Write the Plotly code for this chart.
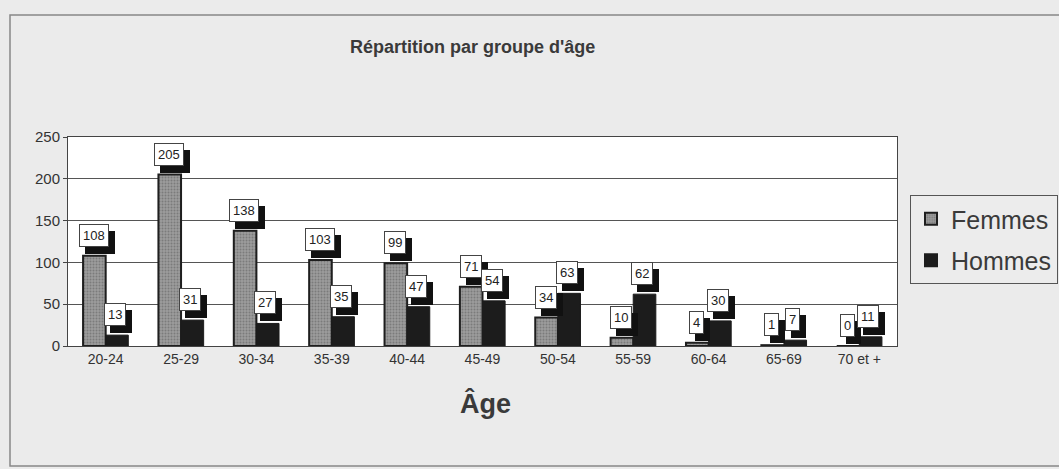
import plotly.graph_objects as go

categories = ["20-24", "25-29", "30-34", "35-39", "40-44", "45-49",
              "50-54", "55-59", "60-64", "65-69", "70 et +"]
femmes = [108, 205, 138, 103, 99, 71, 34, 10, 4, 1, 0]
hommes = [13, 31, 27, 35, 47, 54, 63, 62, 30, 7, 11]
y_ticks = [0, 50, 100, 150, 200, 250]

W, H = 1059, 469
L, R, T, B = 68, 162, 137, 123
pw, ph = W - L - R, H - T - B

def px_x(p):
    return (p - L) / pw

def px_y(p):
    return (H - B - p) / ph

FONT = "Arial, Liberation Sans, sans-serif"

fig = go.Figure()
fig.add_trace(go.Bar(
    x=categories, y=femmes, name="Femmes", legendgroup="f",
    marker=dict(color="#9c9c9c", line=dict(color="#1e1e1e", width=2),
                pattern=dict(shape=".", fgcolor="#5a5a5a", size=3, solidity=0.35)),
))
fig.add_trace(go.Bar(
    x=categories, y=hommes, name="Hommes", legendgroup="h",
    marker=dict(color="#1c1c1c", line=dict(color="#1c1c1c", width=1)),
))

annotations = []
for series, xs in ((femmes, -12), (hommes, 9)):
    for c, v in zip(categories, series):
        common = dict(x=c, y=v, xref="x", yref="y", text=str(v), showarrow=False,
                      yanchor="bottom", borderpad=3, borderwidth=1)
        annotations.append(dict(common, xshift=xs + 6, yshift=9 - 7,
                                bgcolor="#111111", bordercolor="#111111",
                                font=dict(family=FONT, size=13, color="#111111")))
        annotations.append(dict(common, xshift=xs, yshift=9,
                                bgcolor="white", bordercolor="#444444",
                                font=dict(family=FONT, size=13, color="#222222")))

annotations.append(dict(text="<b>Répartition par groupe d'âge</b>", xref="paper", yref="paper",
                        x=px_x(472), y=px_y(47), xanchor="center", yanchor="middle",
                        showarrow=False,
                        font=dict(family=FONT, size=18, color="#3a3a3a")))
annotations.append(dict(text="<b>Âge</b>", xref="paper", yref="paper",
                        x=px_x(485), y=px_y(403), xanchor="center", yanchor="middle",
                        showarrow=False,
                        font=dict(family=FONT, size=27, color="#3a3a3a")))

fig.update_layout(
    width=W, height=H,
    margin=dict(l=L, r=R, t=T, b=B, autoexpand=False),
    paper_bgcolor="#ebebeb", plot_bgcolor="white",
    barmode="group", bargap=0.4, bargroupgap=0,
    font=dict(family=FONT, color="#333333"),
    showlegend=True,
    legend=dict(x=px_x(910), y=px_y(195), xanchor="left", yanchor="top",
                bgcolor="#ececec", bordercolor="#555555", borderwidth=1,
                font=dict(size=25, color="#3a3a3a"), itemsizing="constant",
                traceorder="grouped", tracegroupgap=6),
    annotations=annotations,
    shapes=[dict(type="rect", xref="paper", yref="paper",
                 x0=px_x(10), x1=px_x(1075), y0=px_y(466), y1=px_y(15),
                 line=dict(color="#888888", width=1.5), layer="below")],
)
fig.update_xaxes(showline=True, linecolor="#444444", mirror=True, ticks="",
                 tickfont=dict(size=14, color="#333333"), showgrid=False)
fig.update_yaxes(range=[0, 250], tickvals=y_ticks, showline=True, linecolor="#444444",
                 mirror=True, gridcolor="#555555", gridwidth=1,
                 tickfont=dict(size=15, color="#333333"), zeroline=False,
                 ticks="outside", ticklen=4, tickcolor="#444444")

fig.write_html("out.html", config={"displayModeBar": False},
               post_script="document.body.style.margin='0';")
